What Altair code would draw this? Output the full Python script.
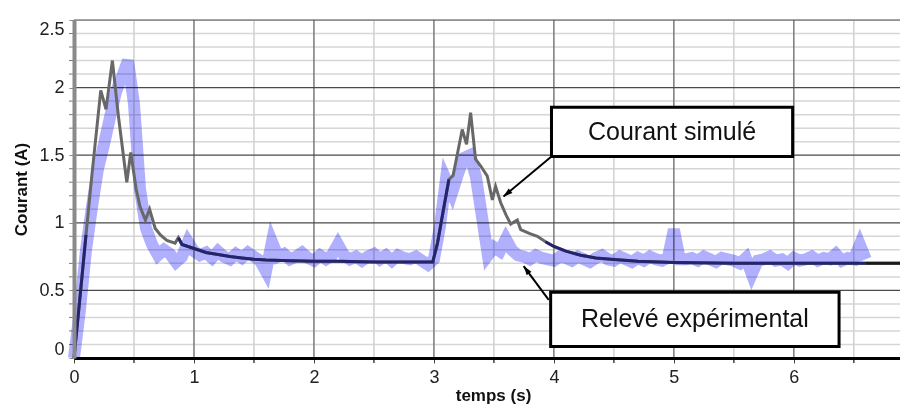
import altair as alt
import pandas as pd

# ---- simulated current (grey curve) ----
sim_t = [0.0, 0.05, 0.10, 0.15, 0.223, 0.267, 0.32, 0.37, 0.44, 0.473, 0.518, 0.55, 0.595,
         0.63, 0.676, 0.72, 0.774, 0.843, 0.87, 0.90, 1.0, 1.1, 1.2, 1.3, 1.4, 1.5, 1.6, 1.8,
         2.0, 2.2, 2.5, 2.8, 2.99, 3.03, 3.08, 3.125, 3.16, 3.236, 3.272, 3.306, 3.347, 3.39,
         3.445, 3.487, 3.514, 3.556, 3.60, 3.64, 3.695, 3.723, 3.80, 3.862, 3.93, 4.0, 4.1,
         4.224, 4.35, 4.5, 4.7, 5.0, 5.5, 6.0, 6.6, 7.0]
sim_i = [0.0, 0.45, 0.91, 1.36, 1.98, 1.84, 2.20, 1.79, 1.30, 1.52, 1.25, 1.12, 1.02,
         1.10, 0.96, 0.91, 0.87, 0.85, 0.89, 0.84, 0.81, 0.78, 0.765, 0.75, 0.74, 0.73, 0.725, 0.72,
         0.715, 0.715, 0.71, 0.71, 0.71, 0.85, 1.10, 1.32, 1.35, 1.69, 1.58, 1.815, 1.47, 1.42,
         1.345, 1.17, 1.27, 1.15, 1.06, 0.99, 1.02, 0.95, 0.92, 0.90, 0.86, 0.825, 0.79,
         0.76, 0.74, 0.728, 0.715, 0.707, 0.70, 0.70, 0.70, 0.70]

# ---- measured current (light blue band) ----
exp_t = [0.00, 0.05, 0.10, 0.15, 0.20, 0.25, 0.30, 0.35, 0.40, 0.45,
         0.50, 0.55, 0.60, 0.65, 0.70, 0.75, 0.80, 0.85, 0.90, 0.95,
         1.00, 1.05, 1.10, 1.15, 1.20, 1.25, 1.30, 1.35, 1.40, 1.45,
         1.50, 1.55, 1.60, 1.65, 1.70, 1.75, 1.80, 1.85, 1.90, 1.95,
         2.00, 2.05, 2.10, 2.15, 2.20, 2.25, 2.30, 2.35, 2.40, 2.45,
         2.50, 2.55, 2.60, 2.65, 2.70, 2.75, 2.80, 2.85, 2.90, 2.95,
         3.00, 3.05, 3.10, 3.15, 3.20, 3.25, 3.30, 3.35, 3.40, 3.45,
         3.50, 3.55, 3.60, 3.65, 3.70, 3.75, 3.80, 3.85, 3.90, 3.95,
         4.00, 4.05, 4.10, 4.15, 4.20, 4.25, 4.30, 4.35, 4.40, 4.45,
         4.50, 4.55, 4.60, 4.65, 4.70, 4.75, 4.80, 4.85, 4.90, 4.95,
         5.00, 5.05, 5.10, 5.15, 5.20, 5.25, 5.30, 5.35, 5.40, 5.45,
         5.50, 5.55, 5.60, 5.65, 5.70, 5.75, 5.80, 5.85, 5.90, 5.95,
         6.00, 6.05, 6.10, 6.15, 6.20, 6.25, 6.30, 6.35, 6.40, 6.45,
         6.50, 6.55, 6.60]
exp_i = [0.00, 0.36, 0.80, 1.12, 1.40, 1.58, 1.78, 1.97, 2.08, 2.20,
         1.88, 1.25, 0.96, 0.84, 0.76, 0.80, 0.77, 0.71, 0.75, 0.86,
         0.79, 0.76, 0.78, 0.74, 0.79, 0.75, 0.73, 0.77, 0.74, 0.78,
         0.75, 0.72, 0.64, 0.86, 0.75, 0.77, 0.73, 0.75, 0.78, 0.74,
         0.72, 0.76, 0.73, 0.76, 0.84, 0.76, 0.73, 0.75, 0.72, 0.75,
         0.77, 0.73, 0.76, 0.72, 0.76, 0.74, 0.73, 0.75, 0.72, 0.69,
         0.73, 0.97, 1.32, 1.22, 1.36, 1.48, 1.50, 1.34, 1.05, 0.76,
         0.82, 0.79, 0.88, 0.80, 0.76, 0.75, 0.73, 0.76, 0.74, 0.73,
         0.72, 0.75, 0.74, 0.72, 0.75, 0.73, 0.71, 0.74, 0.76, 0.73,
         0.72, 0.75, 0.73, 0.71, 0.74, 0.72, 0.75, 0.73, 0.72, 0.74,
         0.95, 0.73, 0.73, 0.74, 0.72, 0.75, 0.73, 0.71, 0.74, 0.73,
         0.72, 0.70, 0.74, 0.62, 0.72, 0.73, 0.75, 0.72, 0.73, 0.70,
         0.74, 0.72, 0.73, 0.75, 0.72, 0.74, 0.73, 0.77, 0.72, 0.74,
         0.73, 0.84, 0.73]

# ---- grid and axis ticks ----
x_major = [1, 2, 3, 4, 5, 6]
x_minor = [0.5, 1.5, 2.5, 3.5, 4.5, 5.5, 6.5]
y_major = [0.5, 1.0, 1.5, 2.0, 2.5]
y_minor = [0.1, 0.2, 0.3, 0.4, 0.6, 0.7, 0.8, 0.9, 1.1, 1.2, 1.3, 1.4, 1.6, 1.7, 1.8, 1.9,
           2.1, 2.2, 2.3, 2.4]
x_labels = [0, 1, 2, 3, 4, 5, 6]
y_labels = [0, 0.5, 1, 1.5, 2, 2.5]

# ---- annotations ----
box_labels = ["Courant simulé", "Relevé expérimental"]
box_x0 = [3.98, 3.973]
box_x1 = [5.99, 6.377]
box_y0 = [1.49, 0.085]
box_y1 = [1.855, 0.486]
arrow_tail_x = [3.98, 3.957]
arrow_tail_y = [1.49, 0.43]
arrow_head_x = [3.58, 3.748]
arrow_head_y = [1.194, 0.68]
arrow_angle = [230, 324]

FONT = "Liberation Sans"
W, H = 826, 338

xs = alt.Scale(domain=[0, 6.885], nice=False, zero=False)
ys = alt.Scale(domain=[0, 2.5], nice=False, zero=False)

sim_df = pd.DataFrame({"t": sim_t, "i": sim_i})
exp_df = pd.DataFrame({"t": exp_t, "i": exp_i})
box_df = pd.DataFrame({"label": box_labels, "x0": box_x0, "x1": box_x1, "y0": box_y0, "y1": box_y1})
box_df["xc"] = (box_df.x0 + box_df.x1) / 2
box_df["yc"] = (box_df.y0 + box_df.y1) / 2
arr_df = pd.DataFrame({"tx": arrow_tail_x, "ty": arrow_tail_y, "hx": arrow_head_x,
                       "hy": arrow_head_y, "ang": arrow_angle})

x_axis = alt.Axis(values=x_labels, format="d", labelOverlap=False, labelFlush=False,
                  title="temps (s)", grid=False, domainColor="#000000", domainWidth=3,
                  tickSize=5, tickColor="#444", labelPadding=5, labelFontSize=18,
                  labelColor="#222", labelFont=FONT, titleFont=FONT, titleFontSize=17,
                  titleFontWeight="bold", titleColor="#111", titleX=419, titleY=37,
                  titleBaseline="middle", titleAlign="center", zindex=1)
y_axis = alt.Axis(values=y_labels, format="~g", labelOverlap=False, labelFlush=True,
                  title="Courant (A)", grid=False, domainColor="#8a8a8a", domainWidth=4,
                  tickSize=5, tickColor="#888", labelPadding=5, labelFontSize=18,
                  labelColor="#222", labelFont=FONT, titleFont=FONT, titleFontSize=17,
                  titleFontWeight="bold", titleColor="#111", titleX=-53, titleY=169,
                  titleAngle=270, titleBaseline="middle", titleAlign="center", zindex=1)


def vrules(vals, color, width):
    return alt.Chart(pd.DataFrame({"t": vals})).mark_rule(color=color, strokeWidth=width).encode(
        x=alt.X("t:Q", scale=xs))


def hrules(vals, color, width):
    return alt.Chart(pd.DataFrame({"i": vals})).mark_rule(color=color, strokeWidth=width).encode(
        y=alt.Y("i:Q", scale=ys))


# first layers carry the axes
y_minor_layer = alt.Chart(pd.DataFrame({"i": y_minor})).mark_rule(
    color="#d6d6d6", strokeWidth=1.5).encode(
    x=alt.value(0), x2=alt.value(W), y=alt.Y("i:Q", scale=ys, axis=y_axis))
x_axis_carrier = alt.Chart(pd.DataFrame({"t": x_minor})).mark_rule(
    color="#d0d0d0", strokeWidth=1.5).encode(x=alt.X("t:Q", scale=xs, axis=x_axis))

# small ticks outside the frame
y_small_ticks = alt.Chart(pd.DataFrame({"i": y_minor})).mark_rule(
    color="#777", strokeWidth=1).encode(x=alt.value(-5), x2=alt.value(-1),
                                        y=alt.Y("i:Q", scale=ys))
x_small_ticks = alt.Chart(pd.DataFrame({"t": x_minor})).mark_rule(
    color="#444", strokeWidth=1.5).encode(y=alt.value(H + 1), y2=alt.value(H + 5),
                                          x=alt.X("t:Q", scale=xs))

grid = (vrules(x_major, "#7a7a7a", 1.5) + hrules(y_major, "#4a4a4a", 1.2))

exp_line = alt.Chart(exp_df).mark_line(color="#b0b0ff", strokeWidth=12, blend="multiply",
                                       strokeJoin="miter").encode(
    x=alt.X("t:Q", scale=xs), y=alt.Y("i:Q", scale=ys), order="t:Q")

sim_line = alt.Chart(sim_df).mark_line(color="#686868", strokeWidth=3).encode(
    x=alt.X("t:Q", scale=xs), y=alt.Y("i:Q", scale=ys), order="t:Q")

# parts of the simulated curve lying inside the measured band look navy, the tail looks black
seg_expr = ("datum.t <= 0.10 ? 'a' : (datum.t >= 0.87 && datum.t <= 3.125) ? 'b' : "
            "(datum.t >= 3.93 && datum.t <= 6.6) ? 'c' : 'none'")
sim_navy = alt.Chart(sim_df).transform_calculate(seg=seg_expr).transform_filter(
    "datum.seg != 'none'").mark_line(color="#23236e", strokeWidth=3).encode(
    x=alt.X("t:Q", scale=xs), y=alt.Y("i:Q", scale=ys), detail="seg:N", order="t:Q")
sim_tail = alt.Chart(sim_df).transform_filter("datum.t >= 6.6").mark_line(
    color="#1a1a1a", strokeWidth=3).encode(
    x=alt.X("t:Q", scale=xs), y=alt.Y("i:Q", scale=ys), order="t:Q")

boxes = alt.Chart(box_df).mark_rect(fill="white", stroke="black", strokeWidth=3).encode(
    x=alt.X("x0:Q", scale=xs), x2="x1:Q", y=alt.Y("y0:Q", scale=ys), y2="y1:Q")
box_text = alt.Chart(box_df).mark_text(font=FONT, fontSize=25, color="#111").encode(
    x=alt.X("xc:Q", scale=xs), y=alt.Y("yc:Q", scale=ys), text="label:N")

arrow_lines = alt.Chart(arr_df).mark_rule(color="black", strokeWidth=2).encode(
    x=alt.X("tx:Q", scale=xs), y=alt.Y("ty:Q", scale=ys), x2="hx:Q", y2="hy:Q")
arrow_heads = alt.Chart(arr_df).mark_point(
    shape="M0,0L-0.7,2.2L0.7,2.2Z", filled=True, color="black", size=70, opacity=1).encode(
    x=alt.X("hx:Q", scale=xs), y=alt.Y("hy:Q", scale=ys), angle=alt.Angle("ang:Q", scale=None))

chart = alt.layer(y_minor_layer, x_axis_carrier, y_small_ticks, x_small_ticks, grid, exp_line,
                  sim_line, sim_navy, sim_tail, arrow_lines, arrow_heads,
                  boxes, box_text).properties(
    width=W, height=H,
    autosize=alt.AutoSizeParams(type="none"),
    padding={"left": 66, "top": 12, "right": 0, "bottom": 46},
).configure_view(stroke=None).configure(background="white").configure_axis(labelOverlap=False)

chart.save("out.html", embed_options={"renderer": "svg", "actions": False})
